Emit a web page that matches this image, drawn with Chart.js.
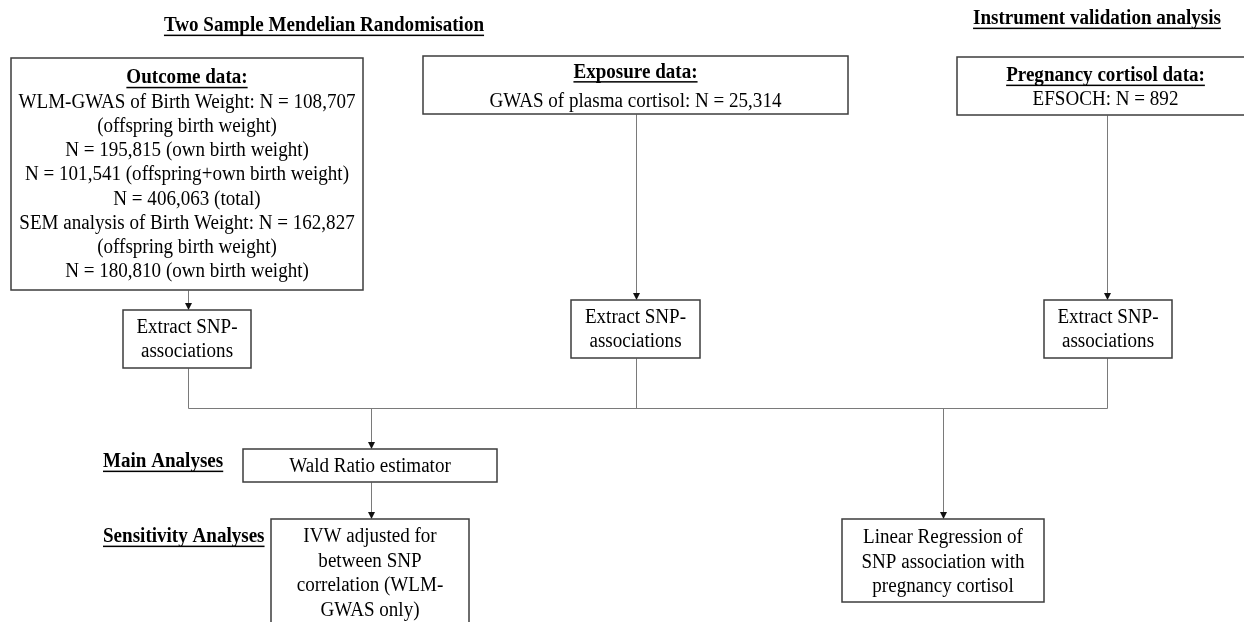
<!DOCTYPE html>
<html>
<head>
<meta charset="utf-8">
<script src="https://cdn.jsdelivr.net/npm/chart.js@4.4.1/dist/chart.umd.min.js"></script>
<style>
  html, body { margin: 0; padding: 0; background: #fff; }
  #flow { display: block; }
</style>
</head>
<body>
<canvas id="flow" width="1244" height="622"></canvas>
<script>
// data
const sectionTitles = ['Two Sample Mendelian Randomisation', 'Instrument validation analysis'];
const stageLabels = ['Main Analyses', 'Sensitivity Analyses'];
const outcomeN = [108707, 195815, 101541, 406063, 162827, 180810];
const outcomeWhat = ['', '(own birth weight)', '(offspring+own birth weight)', '(total)', '', '(own birth weight)'];
const exposureN = [25314];
const pregnancyN = [892];

const fmt = n => n.toLocaleString('en-US');
const B = t => ({ t: t, bold: true, u: true });
const R = t => ({ t: t });

// boxes in chart units (x 0..1244, y 0..622 top-down)
const nodes = [
  { id: 'outcome', x0: 11, x1: 363, y0: 58, y1: 290, lh: 24.2, dy: 1, lines: [
    B('Outcome data:'),
    R('WLM-GWAS of Birth Weight: N = ' + fmt(outcomeN[0])),
    R('(offspring birth weight)'),
    R('N = ' + fmt(outcomeN[1]) + ' ' + outcomeWhat[1]),
    R('N = ' + fmt(outcomeN[2]) + ' ' + outcomeWhat[2]),
    R('N = ' + fmt(outcomeN[3]) + ' ' + outcomeWhat[3]),
    R('SEM analysis of Birth Weight: N = ' + fmt(outcomeN[4])),
    R('(offspring birth weight)'),
    R('N = ' + fmt(outcomeN[5]) + ' ' + outcomeWhat[5])
  ]},
  { id: 'exposure', x0: 423, x1: 848, y0: 56, y1: 114, lh: 29, dy: 2, lines: [
    B('Exposure data:'), R('GWAS of plasma cortisol: N = ' + fmt(exposureN[0]))
  ]},
  { id: 'pregnancy', x0: 957, x1: 1254, y0: 57, y1: 115, lh: 24, dy: 2, lines: [
    B('Pregnancy cortisol data:'), R('EFSOCH: N = ' + fmt(pregnancyN[0]))
  ]},
  { id: 'ex1', x0: 123, x1: 251, y0: 310, y1: 368, lh: 24, dy: 1, lines: [R('Extract SNP-'), R('associations')] },
  { id: 'ex2', x0: 571, x1: 700, y0: 300, y1: 358, lh: 24, dy: 1, lines: [R('Extract SNP-'), R('associations')] },
  { id: 'ex3', x0: 1044, x1: 1172, y0: 300, y1: 358, lh: 24, dy: 1, lines: [R('Extract SNP-'), R('associations')] },
  { id: 'wald', x0: 243, x1: 497, y0: 449, y1: 482, lh: 24, dy: 1, lines: [R('Wald Ratio estimator')] },
  { id: 'ivw', x0: 271, x1: 469, y0: 519, y1: 650, lh: 24.5, dy: 0, top: 537, lines: [
    R('IVW adjusted for'), R('between SNP'), R('correlation (WLM-'), R('GWAS only)')
  ]},
  { id: 'linreg', x0: 842, x1: 1044, y0: 519, y1: 602, lh: 24.5, dy: 2, lines: [
    R('Linear Regression of'), R('SNP association with'), R('pregnancy cortisol')
  ]}
];

// free labels: [text, x centre or left, y, align]
const labels = [
  [sectionTitles[0], 324, 26, 'center'],
  [sectionTitles[1], 1097, 19, 'center'],
  [stageLabels[0], 103, 462, 'left'],
  [stageLabels[1], 103, 537, 'left']
];

// connectors: [x1, y1, x2, y2, arrow]
const links = [
  [188, 290, 188, 310, true],
  [636, 114, 636, 300, true],
  [1107, 115, 1107, 300, true],
  [188, 368, 188, 408, false],
  [636, 358, 636, 408, false],
  [1107, 358, 1107, 408, false],
  [188, 408, 1107, 408, false],
  [371, 408, 371, 449, true],
  [371, 482, 371, 519, true],
  [943, 408, 943, 519, true]
];

const SERIF = '"Liberation Serif", "Times New Roman", serif';
const SX = 0.93; // the figure's type is a little narrow

function drawText(ctx, str, x, y, size, bold, underline, align) {
  ctx.save();
  ctx.font = (bold ? 'bold ' : '') + size + 'px ' + SERIF;
  ctx.fillStyle = '#000';
  ctx.textBaseline = 'middle';
  ctx.textAlign = align || 'center';
  ctx.translate(x, y);
  ctx.scale(SX, 1);
  ctx.fillText(str, 0, 0);
  if (underline) {
    const w = ctx.measureText(str).width;
    const x0 = align === 'left' ? 0 : -w / 2;
    ctx.fillRect(x0, size * 0.42, w, 1.5);
  }
  ctx.restore();
}

const flowPlugin = {
  id: 'flow',
  afterDraw(chart) {
    const ctx = chart.ctx;
    const sx = chart.scales.x, sy = chart.scales.y;
    const px = v => sx.getPixelForValue(v);
    const py = v => sy.getPixelForValue(v);

    // connectors
    ctx.save();
    ctx.strokeStyle = '#7a7a7a';
    ctx.lineWidth = 1;
    links.forEach(([x1, y1, x2, y2, arrow]) => {
      ctx.beginPath();
      ctx.moveTo(Math.round(px(x1)) + 0.5, Math.round(py(y1)) + 0.5);
      ctx.lineTo(Math.round(px(x2)) + 0.5, Math.round(py(y2)) + 0.5 - (arrow ? 5 : 0));
      ctx.stroke();
      if (arrow) {
        const tx = Math.round(px(x2)) + 0.5, ty = py(y2);
        ctx.fillStyle = '#111';
        ctx.beginPath();
        ctx.moveTo(tx, ty);
        ctx.lineTo(tx - 3.5, ty - 7);
        ctx.lineTo(tx + 3.5, ty - 7);
        ctx.closePath();
        ctx.fill();
      }
    });
    ctx.restore();

    // boxes
    nodes.forEach(n => {
      const x0 = px(n.x0), x1 = px(n.x1), y0 = py(n.y0), y1 = py(n.y1);
      ctx.save();
      ctx.fillStyle = '#fff';
      ctx.fillRect(x0, y0, x1 - x0, y1 - y0);
      ctx.strokeStyle = '#3c3c3c';
      ctx.lineWidth = 1.5;
      ctx.strokeRect(x0, y0, x1 - x0, y1 - y0);
      ctx.restore();
      const cx = (x0 + x1) / 2;
      const first = n.top !== undefined ? py(n.top)
        : (y0 + y1) / 2 - (n.lines.length - 1) * n.lh / 2 + n.dy;
      n.lines.forEach((l, i) => {
        drawText(ctx, l.t, cx, first + i * n.lh, 20.5, l.bold, l.u, 'center');
      });
    });

    // section and stage labels
    labels.forEach(([t, x, y, align]) => {
      drawText(ctx, t, px(x), py(y), 20.5, true, true, align);
    });
  }
};

new Chart(document.getElementById('flow'), {
  type: 'scatter',
  data: {
    datasets: [{
      data: nodes.map(n => ({ x: (n.x0 + n.x1) / 2, y: (n.y0 + n.y1) / 2 })),
      pointRadius: 0
    }]
  },
  options: {
    responsive: false,
    animation: false,
    devicePixelRatio: 1,
    layout: { padding: 0 },
    events: [],
    plugins: { legend: { display: false }, tooltip: { enabled: false } },
    scales: {
      x: { type: 'linear', min: 0, max: 1244, display: false },
      y: { type: 'linear', min: 0, max: 622, reverse: true, display: false }
    }
  },
  plugins: [flowPlugin]
});
</script>
</body>
</html>
